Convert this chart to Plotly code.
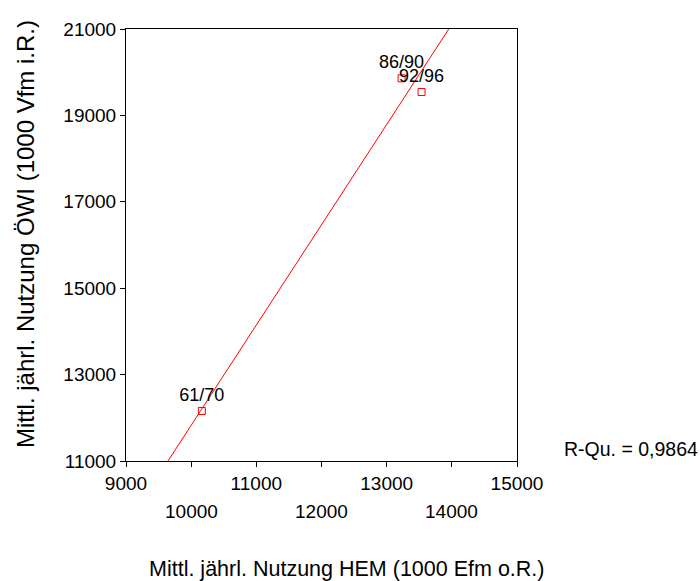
import numpy as np
import plotly.graph_objects as go

# data
periods = ["61/70", "86/90", "92/96"]
hem = [10164, 13229, 13535]          # Mittl. jährl. Nutzung HEM (1000 Efm o.R.)
owi = [12158, 19858, 19541]          # Mittl. jährl. Nutzung ÖWI (1000 Vfm i.R.)
r_squared_text = "R-Qu. = 0,9864"
x_ticks = [9000, 10000, 11000, 12000, 13000, 14000, 15000]
x_ticks_row1 = [9000, 11000, 13000, 15000]
x_ticks_row2 = [10000, 12000, 14000]
y_ticks = [11000, 13000, 15000, 17000, 19000, 21000]
x_range = [9000, 15000]
y_range = [11000, 21000]

FONT = "Liberation Sans, Arial, sans-serif"
RED = "#ff0000"

# linear fit (OWI on HEM), drawn across the full y range
slope, intercept = np.polyfit(hem, owi, 1)
fit_y = np.array(y_range, dtype=float)
fit_x = (fit_y - intercept) / slope

fig = go.Figure()
fig.add_trace(go.Scatter(x=fit_x, y=fit_y, mode="lines",
                         line=dict(color=RED, width=1), hoverinfo="skip",
                         showlegend=False, cliponaxis=True))
fig.add_trace(go.Scatter(x=hem, y=owi, mode="markers+text", text=periods,
                         textposition="top center",
                         textfont=dict(family=FONT, size=18, color="black"),
                         marker=dict(symbol="square-open", size=7,
                                     color=RED, line=dict(width=1, color=RED)),
                         showlegend=False, cliponaxis=False))

annotations = []
for v in x_ticks_row2:
    annotations.append(dict(x=v, xref="x", y=0, yref="paper", text=str(v),
                            showarrow=False, yanchor="middle", yshift=-50,
                            font=dict(family=FONT, size=19, color="black")))
annotations.append(dict(x=(562 - 125.7) / 391.6, xref="paper", xanchor="left",
                        y=0.027, yref="paper", yanchor="middle",
                        text=r_squared_text, showarrow=False,
                        font=dict(family=FONT, size=19.5, color="black")))
annotations.append(dict(x=(347 - 125.7) / 391.6, xref="paper", xanchor="center",
                        y=-(569 - 460.7) / 431.7, yref="paper", yanchor="middle",
                        text="Mittl. jährl. Nutzung HEM (1000 Efm o.R.)",
                        showarrow=False,
                        font=dict(family=FONT, size=21.5, color="black")))
annotations.append(dict(x=-(125.7 - 25) / 391.6, xref="paper", xanchor="center",
                        y=(460.7 - 233.5) / 431.7, yref="paper", yanchor="middle",
                        text="Mittl. jährl. Nutzung ÖWI (1000 Vfm i.R.)",
                        textangle=-90, showarrow=False,
                        font=dict(family=FONT, size=24, color="black")))

fig.update_layout(
    width=700, height=581,
    margin=dict(l=125.7, r=700 - 517.3, t=29, b=581 - 460.7, pad=0),
    paper_bgcolor="white", plot_bgcolor="white",
    font=dict(family=FONT, size=19, color="black"),
    xaxis=dict(range=x_range, tickvals=x_ticks,
               ticktext=[str(v) if v in x_ticks_row1 else "" for v in x_ticks],
               ticks="outside", ticklen=5, tickcolor="black",
               showline=True, linecolor="black", linewidth=1, mirror=True,
               showgrid=False, zeroline=False,
               tickfont=dict(family=FONT, size=19, color="black")),
    yaxis=dict(range=y_range, tickvals=y_ticks,
               ticktext=[str(v) for v in y_ticks],
               ticks="outside", ticklen=5, tickcolor="black",
               showline=True, linecolor="black", linewidth=1, mirror=True,
               showgrid=False, zeroline=False,
               tickfont=dict(family=FONT, size=19, color="black")),
    annotations=annotations,
)

fig.write_html("out.html")
